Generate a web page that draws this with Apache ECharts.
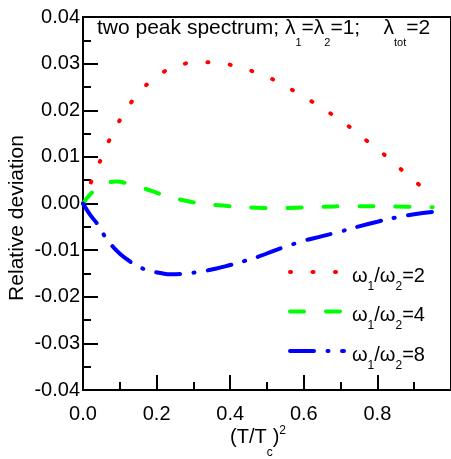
<!DOCTYPE html>
<html>
<head>
<meta charset="utf-8">
<script src="https://cdn.jsdelivr.net/npm/echarts@6/dist/echarts.min.js"></script>
<style>
  html, body { margin: 0; padding: 0; background: #fff; }
  #chart { width: 451px; height: 459px; }
</style>
</head>
<body>
<div id="chart"></div>
<script>
// (T/Tc)^2 sample positions and relative deviations for each frequency ratio
const tRatio2 = [0, 0.025, 0.05, 0.076, 0.109, 0.149, 0.204, 0.261, 0.318, 0.374, 0.431, 0.488, 0.544, 0.6, 0.657, 0.713, 0.769, 0.826, 0.882, 0.94];
const devRatio2 = [0, 0.0052, 0.0097, 0.0143, 0.019, 0.0234, 0.0274, 0.0296, 0.0303, 0.0301, 0.029, 0.0276, 0.0254, 0.0229, 0.0201, 0.0171, 0.0136, 0.0100, 0.0061, 0.0023];

const tRatio4 = [0, 0.02, 0.04, 0.06, 0.09, 0.12, 0.15, 0.19, 0.23, 0.28, 0.32, 0.37, 0.42, 0.47, 0.52, 0.58, 0.65, 0.72, 0.80, 0.88, 0.95];
const devRatio4 = [0, 0.0020, 0.0034, 0.0042, 0.0047, 0.0043, 0.0036, 0.0026, 0.0015, 0.0006, 0.0000, -0.0004, -0.0007, -0.0009, -0.0010, -0.0009, -0.0007, -0.0006, -0.0006, -0.0007, -0.0008];

const tRatio8 = [0, 0.02, 0.04, 0.06, 0.09, 0.12, 0.15, 0.18, 0.21, 0.24, 0.28, 0.32, 0.36, 0.40, 0.44, 0.48, 0.52, 0.56, 0.60, 0.65, 0.70, 0.75, 0.80, 0.85, 0.90, 0.95];
const devRatio8 = [0, -0.0025, -0.0045, -0.0071, -0.0100, -0.0120, -0.0135, -0.0144, -0.0149, -0.0152, -0.0150, -0.0146, -0.0140, -0.0132, -0.0123, -0.0113, -0.0101, -0.0090, -0.0080, -0.0070, -0.0060, -0.0049, -0.0039, -0.0030, -0.0023, -0.0018];

const seriesNames = ['ω1/ω2=2', 'ω1/ω2=4', 'ω1/ω2=8'];
const ratioLabels = ['2', '4', '8'];

const FONT = '"Liberation Sans", Arial, sans-serif';

function zip(xs, ys) { return xs.map((x, i) => [x, ys[i]]); }

// rich-text token: fixed line box, glyphs pushed down by top padding
function tok(size, lineHeight, padTop) {
  return {
    fontSize: size, lineHeight: lineHeight, verticalAlign: 'top',
    padding: [padTop, 0, 0, 0], fontFamily: FONT, color: '#000', fill: '#000'
  };
}

const chart = echarts.init(document.getElementById('chart'), null, { renderer: 'canvas' });

const lineBase = { width: 4, cap: 'round' };

chart.setOption({
  animation: false,
  backgroundColor: '#fff',
  grid: {
    left: 83, top: 17, right: -9, bottom: 69,
    show: true, borderColor: '#000', borderWidth: 2, backgroundColor: 'transparent'
  },
  xAxis: {
    type: 'value', min: 0, max: 1.0, interval: 0.2,
    axisLine: { show: true, onZero: false, lineStyle: { color: '#000', width: 2 } },
    axisTick: { show: true, inside: true, length: 15, lineStyle: { color: '#000', width: 2 } },
    minorTick: { show: true, splitNumber: 2, length: 8, lineStyle: { color: '#000', width: 2 } },
    splitLine: { show: false },
    axisLabel: {
      margin: 14, color: '#000', fontSize: 20, fontFamily: FONT,
      showMaxLabel: false,
      formatter: v => v.toFixed(1)
    }
  },
  yAxis: {
    type: 'value', min: -0.04, max: 0.04, interval: 0.01,
    axisLine: { show: true, onZero: false, lineStyle: { color: '#000', width: 2 } },
    axisTick: { show: true, inside: true, length: 15, lineStyle: { color: '#000', width: 2 } },
    minorTick: { show: true, splitNumber: 2, length: 8, lineStyle: { color: '#000', width: 2 } },
    splitLine: { show: false },
    axisLabel: {
      margin: 3, color: '#000', fontSize: 20, fontFamily: FONT,
      formatter: v => v.toFixed(2)
    }
  },
  legend: {
    orient: 'vertical', left: 288, top: 251, padding: 0,
    itemWidth: 54, itemHeight: 14, itemGap: -2,
    selectedMode: false,
    lineStyle: { width: 4 },
    itemStyle: { opacity: 0, color: 'rgba(0,0,0,0)', borderWidth: 0 },
    formatter: name => {
      const r = ratioLabels[seriesNames.indexOf(name)];
      return '{m|ω}{s|1}{m|/ω}{s|2}{m|=' + r + '}';
    },
    textStyle: {
      color: '#000', fontFamily: FONT, padding: [0, 0, 0, 3],
      rich: {
        m: tok(20, 42, 15),
        s: tok(12, 42, 29.5)
      }
    },
    data: seriesNames
  },
  series: [
    {
      name: seriesNames[0], type: 'line', symbol: 'none', smooth: true,
      data: zip(tRatio2, devRatio2), color: '#ff0000',
      lineStyle: Object.assign({}, lineBase, { color: '#ff0000', type: [1, 21.5] })
    },
    {
      name: seriesNames[1], type: 'line', symbol: 'none', smooth: true,
      data: zip(tRatio4, devRatio4), color: '#00ff00',
      lineStyle: Object.assign({}, lineBase, { color: '#00ff00', type: [14, 22] })
    },
    {
      name: seriesNames[2], type: 'line', symbol: 'none', smooth: true,
      data: zip(tRatio8, devRatio8), color: '#0000ff',
      lineStyle: Object.assign({}, lineBase, { color: '#0000ff', type: [24, 13.5, 1, 13.5] })
    }
  ],
  graphic: [
    {
      type: 'text', x: 97, y: 28, silent: true,
      style: {
        text: '{m|two peak spectrum; λ}{s|1}{m|=λ}{s|2}{m|=1;    λ}{s|tot}{m|=2}',
        align: 'left', verticalAlign: 'middle',
        rich: {
          m: tok(21, 38, 8.5),
          s: tok(11, 38, 28)
        }
      }
    },
    {
      type: 'text', x: 17, y: 218, rotation: Math.PI / 2, silent: true,
      style: {
        text: 'Relative deviation', fontSize: 21, fontFamily: FONT, fill: '#000',
        align: 'center', verticalAlign: 'middle'
      }
    },
    {
      type: 'text', x: 258, y: 437, silent: true,
      style: {
        text: '{m|(T/T}{s|c}{m|)}{p|2}',
        align: 'center', verticalAlign: 'middle',
        rich: {
          m: tok(20, 40, 10),
          s: tok(12, 40, 30),
          p: tok(12, 40, 8)
        }
      }
    }
  ]
});
</script>
</body>
</html>
